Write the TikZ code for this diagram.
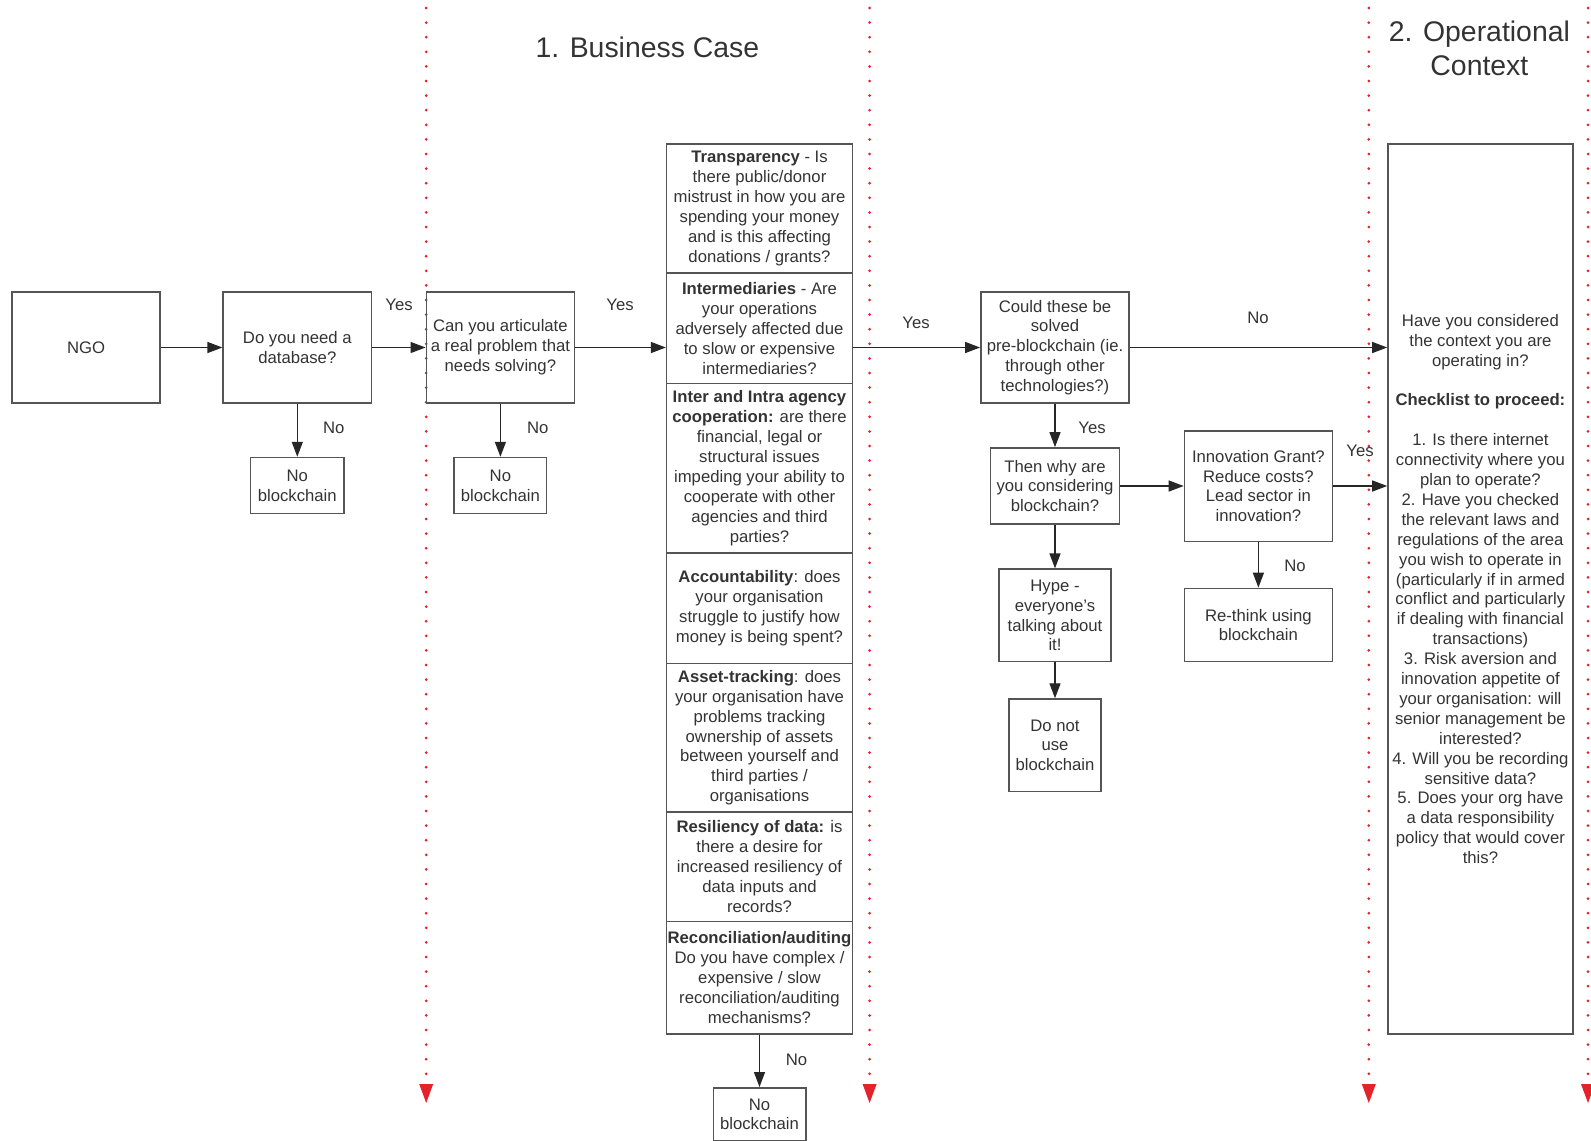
\documentclass[tikz,border=0pt]{standalone}
\usepackage{fontspec}
\setmainfont{Liberation Sans}
\usetikzlibrary{arrows.meta}
\definecolor{inkgray}{HTML}{333333}
\definecolor{edgegray}{HTML}{555555}
\definecolor{laneRed}{HTML}{E3222B}

\tikzset{
  box/.style={draw=edgegray, line width=1.6pt, rectangle, inner sep=1pt, align=center,
    text=inkgray, font=\fontsize{16.7}{19.9}\selectfont},
  cell/.style={box, minimum width=185.7pt},
  lbl/.style={text=inkgray, font=\fontsize{16.7}{19.9}\selectfont, inner sep=0pt},
  title/.style={text=inkgray, align=center, font=\fontsize{28.4}{34.5}\selectfont},
  link/.style={draw=black!85, line width=1.3pt, -{Triangle[length=15pt,width=11pt]}},
  lane/.style={draw=laneRed, line width=3pt, line cap=round, dash pattern=on 0pt off 14.6pt},
}

\begin{document}
\begin{tikzpicture}[x=1pt,y=-1pt]
\useasboundingbox (0,0) rectangle (1591,1141);

\foreach \lx in {426.2,869.6,1368.8,1588} {
  \draw[lane] (\lx,8) -- (\lx,1078);
  \fill[laneRed] ({\lx-7},1084) -- ({\lx+7},1084) -- (\lx,1103) -- cycle;
}

\node[title] (bizcase) at (647.4,47.7) {1. Business Case};
\node[title] (opctx) at (1479.4,48.5) {2. Operational\\Context};

\node[box, minimum width=148.1pt, minimum height=110.6pt] (ngo) at (86.2,347.5) {NGO};
\node[box, minimum width=148.2pt, minimum height=110.6pt] (db) at (297.3,347.5) {Do you need a\\database?};
\node[box, minimum width=93.4pt, minimum height=55.8pt] (nobc1) at (297.3,485.5) {No\\blockchain};
\node[box, minimum width=148.1pt, minimum height=110.6pt] (art) at (500.4,347.5) {Can you articulate\\a real problem that\\needs solving?};
\node[box, minimum width=92.3pt, minimum height=55.8pt] (nobc2) at (500.4,485.5) {No\\blockchain};

\node[cell, minimum height=128.9pt] (c1) at (759.5,208.5) {\textbf{Transparency} - Is\\there public/donor\\mistrust in how you are\\spending your money\\and is this affecting\\donations / grants?};
\node[cell, minimum height=110.6pt] (c2) at (759.5,328.3) {\textbf{Intermediaries} - Are\\your operations\\adversely affected due\\to slow or expensive\\intermediaries?};
\node[cell, minimum height=169.4pt] (c3) at (759.5,468.3) {\textbf{Inter and Intra agency}\\\textbf{cooperation:} are there\\financial, legal or\\structural issues\\impeding your ability to\\cooperate with other\\agencies and third\\parties?};
\node[cell, minimum height=110.6pt] (c4) at (759.5,608.3) {\textbf{Accountability}: does\\your organisation\\struggle to justify how\\money is being spent?};
\node[cell, minimum height=148.2pt] (c5) at (759.5,737.7) {\textbf{Asset-tracking}: does\\your organisation have\\problems tracking\\ownership of assets\\between yourself and\\third parties /\\organisations};
\node[cell, minimum height=109.5pt] (c6) at (759.5,866.55) {\textbf{Resiliency of data:} is\\there a desire for\\increased resiliency of\\data inputs and\\records?};
\node[cell, minimum height=112.7pt] (c7) at (759.5,977.65) {\textbf{Reconciliation/auditing}\\Do you have complex /\\expensive / slow\\reconciliation/auditing\\mechanisms?};
\node[box, minimum width=92.4pt, minimum height=53pt] (nobc3) at (759.5,1114.3) {No\\blockchain};

\node[box, minimum width=148.2pt, minimum height=110.6pt] (could) at (1055,347.5) {Could these be\\solved\\pre-blockchain (ie.\\through other\\technologies?)};
\node[box, minimum width=128.8pt, minimum height=76.1pt] (why) at (1055,486) {Then why are\\you considering\\blockchain?};
\node[box, minimum width=111.5pt, minimum height=92.4pt] (hype) at (1055,615.4) {Hype -\\everyone's\\talking about\\it!};
\node[box, minimum width=92.4pt, minimum height=92.4pt] (donot) at (1055,745.3) {Do not\\use\\blockchain};
\node[box, minimum width=147.8pt, minimum height=110.6pt] (innov) at (1258.4,486) {Innovation Grant?\\Reduce costs?\\Lead sector in\\innovation?};
\node[box, minimum width=147.8pt, minimum height=73.1pt] (rethink) at (1258.4,625) {Re-think using\\blockchain};

\node[box, minimum width=184.8pt, minimum height=889.9pt] (opbox) at (1480.4,589) {Have you considered\\the context you are\\operating in?\\[19.9pt]\textbf{Checklist to proceed:}\\[19.9pt]1. Is there internet\\connectivity where you\\plan to operate?\\2. Have you checked\\the relevant laws and\\regulations of the area\\you wish to operate in\\(particularly if in armed\\conflict and particularly\\if dealing with financial\\transactions)\\3. Risk aversion and\\innovation appetite of\\your organisation: will\\senior management be\\interested?\\4. Will you be recording\\sensitive data?\\5. Does your org have\\a data responsibility\\policy that would cover\\this?};

\node[lbl] (yes1) at (399,304.4) {Yes};
\node[lbl] (yes2) at (620,304.4) {Yes};
\node[lbl] (yes3) at (916,322.7) {Yes};
\node[lbl] (no4) at (1258,317.6) {No};
\node[lbl] (no1) at (333.8,428.2) {No};
\node[lbl] (no2) at (537.8,428.2) {No};
\node[lbl] (no3) at (796.5,1059.4) {No};
\node[lbl] (yes4) at (1092,428.2) {Yes};
\node[lbl] (yes5) at (1360,450.5) {Yes};
\node[lbl] (no5) at (1295,566.2) {No};

\draw[link] (ngo) -- (db);
\draw[link] (db) -- (art);
\draw[link] (art) -- (art -| c2.west);
\draw[link] (could -| c2.east) -- (could);
\draw[link] (could) -- (could -| opbox.west);
\draw[link] (db) -- (nobc1);
\draw[link] (art) -- (nobc2);
\draw[link] (c7) -- (nobc3);
\draw[link] (could) -- (why);
\draw[link] (why) -- (hype);
\draw[link] (hype) -- (donot);
\draw[link] (why) -- (innov);
\draw[link] (innov) -- (innov -| opbox.west);
\draw[link] (innov) -- (rethink);
\end{tikzpicture}
\end{document}
